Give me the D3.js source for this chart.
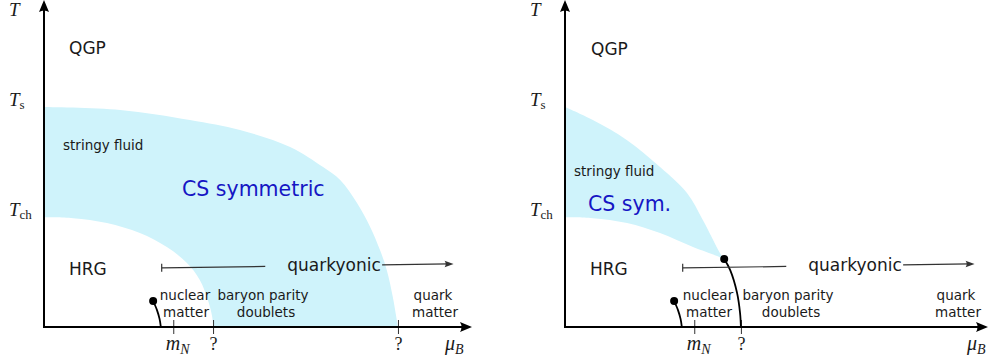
<!DOCTYPE html>
<html>
<head>
<meta charset="utf-8">
<script src="https://cdn.jsdelivr.net/npm/d3@7"></script>
<style>
  body { margin: 0; background: #fff; }
  svg { display: block; }
</style>
</head>
<body>
<svg id="chart" width="989" height="364"></svg>
<script>
// Phase diagram, mu_B and T in arbitrary units

// left panel: CS symmetric band between two boundaries
var csOuterLeft = [[0,6.77],[1.78,6.68],[3.41,6.37],[4.58,6.06],[5.75,5.54],[6.52,4.92],[6.92,4.52],
                   [7.31,3.82],[7.62,3.08],[7.85,2.37],[8.01,1.75],[8.15,0.92],[8.27,0]];
var csInnerLeft = [[0,3.38],[0.68,3.35],[1.47,3.2],[2.24,2.89],[2.87,2.46],[3.34,1.97],[3.64,1.45],
                   [3.83,0.83],[3.93,0.31],[3.95,0]];

// right panel: band closing at a critical point
var csUpperRight = [[0,6.77],[0.65,6.37],[1.45,5.75],[2.22,4.92],[2.85,4.12],[3.22,3.29],[3.62,2.28],[3.72,2.09]];
var csLowerRight = [[0,3.38],[0.65,3.35],[1.45,3.2],[2.22,2.89],[2.99,2.46],[3.62,2.15],[3.72,2.09]];
var criticalLineRight = [[3.72,2.09],[3.86,1.75],[4.02,1.05],[4.09,0.43],[4.11,0]];

// nuclear liquid-gas line (same in both panels)
var nuclearLine = [[2.55,0.8],[2.64,0.52],[2.7,0.25],[2.73,0]];

// quarkyonic arrow: start, gap start, gap end, end
var quarkyonicMu = [2.75, 5.17, 7.9, 9.57];
var quarkyonicT = [1.82, 1.94];

// mu_B ticks
var ticksLeft = [3.02, 3.95, 8.27];
var ticksRight = [3.02, 4.11];
var tickLabelsLeft = ["mN", "?", "?"];
var tickLabelsRight = ["mN", "?"];

// T axis labels
var tLevels = [6.77, 3.38];

var svg = d3.select("#chart");
var shade = "#cff3fb";
var ink = "#1a1a1a";
var sans = "'DejaVu Sans', Verdana, sans-serif";
var serif = "'Liberation Serif', 'Times New Roman', serif";

var x = d3.scaleLinear().domain([0, 10]).range([0, 428]);
var y = d3.scaleLinear().domain([0, 10]).range([327, 2]);

var curve = d3.line().x(function(d){ return x(d[0]); }).y(function(d){ return y(d[1]); })
    .curve(d3.curveCatmullRom.alpha(0.5));

// filled arrow head, tip at (tx,ty), pointing in direction ang (radians)
function arrowHead(g, tx, ty, ang, len, wid, color)
{
    var c = Math.cos(ang), s = Math.sin(ang);
    function p(a, b) { return [tx + a*c - b*s, ty + a*s + b*c]; }
    var b1 = p(-len, -wid), b2 = p(-len, wid), m = p(-len*0.75, 0);
    g.append("path")
        .attr("d", "M" + tx + "," + ty + "L" + b1 + "Q" + m + " " + b2 + "Z")
        .attr("fill", color);
}

function drawPanel(cfg)
{
    var g = svg.append("g").attr("transform", "translate(" + cfg.ox + ",0)");

    // shaded CS region
    g.append("path")
        .attr("d", cfg.region())
        .attr("fill", shade);

    // axis ticks via d3 axis
    var ax = g.append("g").attr("transform", "translate(0," + y(0) + ")")
        .call(d3.axisBottom(x).tickValues(cfg.ticks).tickSizeInner(7).tickSizeOuter(0).tickFormat(""));
    ax.select(".domain").remove();
    ax.selectAll(".tick line").attr("y1", -7).attr("stroke", "#333").attr("stroke-width", 1);

    ax.selectAll(".tick").each(function(d, i) {
        var t = d3.select(this).append("text")
            .attr("y", 23).attr("fill", ink).attr("font-family", serif)
            .attr("font-size", 20).attr("font-style", "italic");
        if (cfg.tickLabels[i] === "mN") {
            t.attr("x", -8).attr("text-anchor", "start");
            t.append("tspan").text("m");
            t.append("tspan").attr("dy", 4).attr("font-size", 14).text("N");
        } else {
            t.attr("x", 0).attr("text-anchor", "middle").attr("font-style", "normal")
                .attr("font-size", 18).text(cfg.tickLabels[i]);
        }
    });

    // axes
    g.append("line").attr("x1", 0).attr("x2", 0).attr("y1", y(0) + 1).attr("y2", 8)
        .attr("stroke", "#000").attr("stroke-width", 2);
    arrowHead(g, 0, 0, -Math.PI/2, 12, 5, "#000");
    g.append("line").attr("x1", -1).attr("x2", cfg.xEnd - 8).attr("y1", y(0)).attr("y2", y(0))
        .attr("stroke", "#000").attr("stroke-width", 2);
    arrowHead(g, cfg.xEnd, y(0), 0, 12, 5, "#000");

    // axis labels
    g.append("text").attr("x", -35).attr("y", 16).attr("fill", ink)
        .attr("font-family", serif).attr("font-size", 19).attr("font-style", "italic").text("T");
    var subs = ["s", "ch"];
    tLevels.forEach(function(v, i) {
        var t = g.append("text").attr("x", -35).attr("y", y(v) - 1).attr("fill", ink)
            .attr("font-family", serif).attr("font-size", 19);
        t.append("tspan").attr("font-style", "italic").text("T");
        t.append("tspan").attr("dy", 3).attr("font-size", 13).text(subs[i]);
    });
    var mu = g.append("text").attr("x", cfg.muX).attr("y", 350).attr("fill", ink)
        .attr("font-family", serif).attr("font-size", 20).attr("font-style", "italic");
    mu.append("tspan").text("\u03bc");
    mu.append("tspan").attr("dy", 4).attr("font-size", 14).text("B");

    // nuclear line with end point
    g.append("path").attr("d", curve(nuclearLine)).attr("fill", "none")
        .attr("stroke", "#000").attr("stroke-width", 1.8);
    g.append("circle").attr("cx", x(nuclearLine[0][0])).attr("cy", y(nuclearLine[0][1]))
        .attr("r", 4).attr("fill", "#000");

    if (cfg.critical) {
        g.append("path").attr("d", curve(cfg.critical)).attr("fill", "none")
            .attr("stroke", "#000").attr("stroke-width", 1.8);
        g.append("circle").attr("cx", x(cfg.critical[0][0])).attr("cy", y(cfg.critical[0][1]))
            .attr("r", 4).attr("fill", "#000");
    }

    // quarkyonic arrow
    var q = quarkyonicMu;
    var qy = function(m) { return y(quarkyonicT[0] + (quarkyonicT[1]-quarkyonicT[0]) * (m - q[0]) / (q[3] - q[0])); };
    g.append("line").attr("x1", x(q[0])).attr("x2", x(q[1])).attr("y1", qy(q[0])).attr("y2", qy(q[1]))
        .attr("stroke", "#333").attr("stroke-width", 1.2);
    g.append("line").attr("x1", x(q[0])).attr("x2", x(q[0])).attr("y1", qy(q[0]) - 4).attr("y2", qy(q[0]) + 4)
        .attr("stroke", "#333").attr("stroke-width", 1.2);
    g.append("line").attr("x1", x(q[2])).attr("x2", x(q[3]) - 5).attr("y1", qy(q[2])).attr("y2", qy(q[3]))
        .attr("stroke", "#333").attr("stroke-width", 1.2);
    arrowHead(g, x(q[3]), qy(q[3]), Math.atan2(qy(q[3]) - qy(q[2]), x(q[3]) - x(q[2])), 9, 3.2, "#333");

    // region labels
    function label(txt, px, py, size, anchor, color) {
        g.append("text").attr("x", px).attr("y", py).attr("font-family", sans)
            .attr("font-size", size).attr("text-anchor", anchor || "start")
            .attr("fill", color || ink).text(txt);
    }
    label("QGP", cfg.qgp[0], cfg.qgp[1], 17);
    label("stringy fluid", cfg.stringy[0], cfg.stringy[1], 13.5);
    label(cfg.csText, cfg.cs[0], cfg.cs[1], 20.5, "start", "#1616c4");
    label("HRG", 25, 275, 17);
    label("quarkyonic", cfg.quarkText, 271, 17, "middle");
    label("nuclear", cfg.nuc, 300, 13.5, "middle");
    label("matter", cfg.nuc + 1, 317, 13.5, "middle");
    label("baryon parity", cfg.bar, 300, 13.5, "middle");
    label("doublets", cfg.bar + 3, 317, 13.5, "middle");
    label("quark", cfg.qm - 2, 300, 13.5, "middle");
    label("matter", cfg.qm, 317, 13.5, "middle");
}

function joinPath(a, b)
{
    var p1 = curve(a), p2 = curve(b.slice().reverse());
    return p1 + "L" + p2.slice(1) + "Z";
}

drawPanel({
    ox: 44, xEnd: 428, muX: 401,
    region: function() { return joinPath(csOuterLeft, csInnerLeft); },
    ticks: ticksLeft, tickLabels: tickLabelsLeft,
    csText: "CS symmetric", cs: [138, 196],
    qgp: [25, 54], stringy: [19, 150],
    quarkText: 290, nuc: 141, bar: 219, qm: 391
});

drawPanel({
    ox: 565, xEnd: 423, muX: 402,
    region: function() { return joinPath(csUpperRight, csLowerRight); },
    ticks: ticksRight, tickLabels: tickLabelsRight,
    critical: criticalLineRight,
    csText: "CS sym.", cs: [23, 211],
    qgp: [26, 55], stringy: [9, 176],
    quarkText: 290, nuc: 143, bar: 223, qm: 393
});
</script>
</body>
</html>
